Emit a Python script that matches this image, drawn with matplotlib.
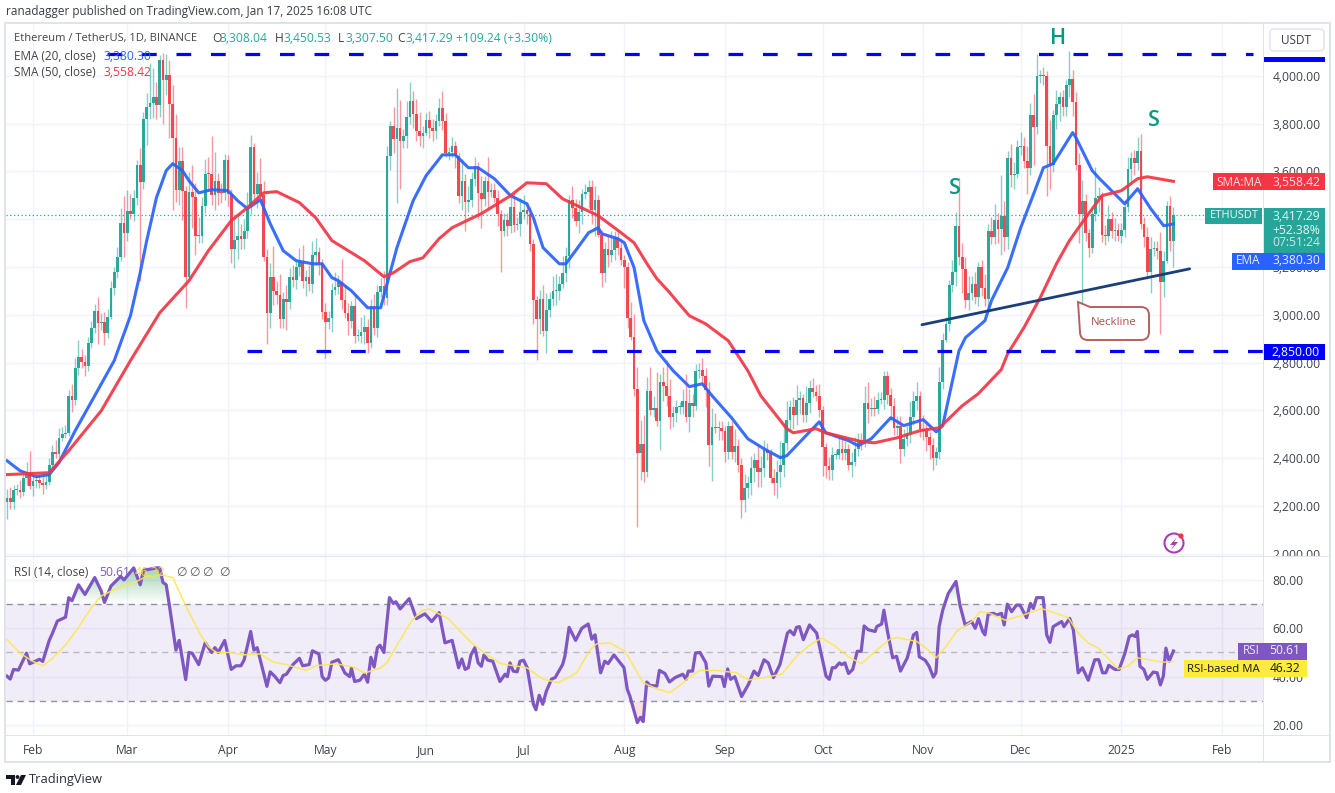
import numpy as np
import matplotlib
matplotlib.use('Agg')
import matplotlib.pyplot as plt
from matplotlib.patches import Rectangle, PathPatch, Circle, Polygon, FancyBboxPatch
from matplotlib.path import Path
from matplotlib.transforms import Affine2D

plt.rcParams['font.family'] = ['Open Sans', 'DejaVu Sans']

# ---------- data: daily closes, upper wick, lower wick (day 0 = 1 Feb 2024) ----------
first_day = -8
first_open = 2215
close_jan = [2235,2218,2267,2268,2257,2318,2343,2282]
up_jan = [35,45,20,25,40,25,40,85]
lo_jan = [70,30,30,20,25,15,30,10]
close_feb = [2304,2309,2296,2289,2301,2372,2425,2419,2486,2501,2507,2659,2642,2777,2825,2803,2785,2881,2945,3014,2967,2971,2922,2992,3112,3178,3243,3385,3340]
up_feb = [30,25,25,40,30,30,30,50,40,30,30,25,50,40,70,30,30,25,30,30,60,35,40,30,30,20,40,60,110]
lo_feb = [40,30,20,40,20,15,15,20,20,15,15,15,50,20,30,25,40,20,20,20,90,30,50,20,10,30,25,20,100]
close_mar = [3433,3420,3490,3628,3555,3818,3868,3885,3912,3878,4066,3980,4005,3880,3738,3520,3642,3517,3158,3515,3493,3330,3330,3454,3590,3587,3500,3561,3510,3509,3647]
up_mar = [90,70,30,20,70,30,60,170,120,60,20,30,85,60,80,100,60,60,20,80,110,60,80,40,60,70,160,120,30,40,25]
lo_mar = [30,20,30,30,415,30,110,50,60,60,50,180,60,140,300,50,60,120,130,10,130,80,30,30,30,70,40,60,50,40,30]
close_apr = [3505,3275,3312,3330,3317,3350,3452,3700,3505,3545,3500,3243,3006,3156,3100,3084,2984,3066,3055,3157,3147,3200,3220,3140,3156,3130,3250,3262,3215,3011]
up_apr = [20,20,110,90,50,50,60,50,20,50,110,60,30,60,130,40,85,30,60,40,50,30,60,70,30,50,60,60,20,20]
lo_apr = [50,60,80,80,40,40,30,30,40,60,30,20,130,60,60,40,40,40,120,30,30,40,40,30,60,30,40,40,50,30]
close_may = [2970,2987,3103,3117,3136,3063,3007,2973,3037,2910,2911,2929,2950,2881,3037,2945,3093,3122,3071,3664,3789,3737,3780,3727,3749,3826,3894,3841,3768,3747,3760]
up_may = [40,30,30,60,30,95,60,40,20,50,30,60,50,30,30,50,30,30,60,40,20,80,170,120,30,70,80,40,60,80,30]
lo_may = [150,30,60,20,30,40,20,60,30,30,20,30,50,40,20,30,40,20,30,30,60,60,270,200,30,50,30,60,40,40,50]
close_jun = [3813,3780,3767,3810,3865,3812,3678,3680,3705,3665,3497,3560,3470,3480,3567,3621,3510,3483,3560,3513,3520,3490,3420,3350,3395,3370,3450,3375,3380,3430]
up_jun = [30,40,40,30,40,70,30,20,40,20,10,90,30,60,30,40,20,70,20,100,30,30,30,20,30,30,50,60,30,60]
lo_jun = [10,40,40,30,20,40,20,30,20,50,30,60,120,40,30,30,110,120,30,70,20,20,50,170,20,40,30,30,20,50]
close_jul = [3440,3420,3295,3060,2980,3065,2930,3020,3066,3100,3100,3130,3175,3245,3480,3445,3390,3430,3505,3515,3535,3440,3480,3335,3175,3275,3250,3270,3320,3280,3230]
up_jul = [60,30,30,20,20,40,60,70,30,60,70,30,70,40,20,60,40,50,20,30,30,30,60,20,20,30,60,80,30,40,40]
lo_jul = [30,40,30,100,170,60,20,90,30,30,60,40,20,40,50,40,20,50,50,20,70,60,110,10,60,40,50,30,40,30,20]
close_aug = [3200,2985,2905,2690,2420,2460,2340,2680,2600,2610,2555,2720,2700,2660,2570,2590,2615,2615,2640,2570,2630,2620,2765,2770,2745,2685,2455,2530,2525,2525,2515]
up_aug = [20,20,70,100,90,100,120,60,100,50,150,30,60,110,70,30,30,20,50,110,60,40,30,30,50,30,35,80,60,30,30]
lo_aug = [90,40,10,30,310,110,40,20,20,30,20,120,60,40,50,40,40,30,30,20,60,50,20,30,30,70,90,150,20,50,40]
close_sep = [2425,2535,2425,2450,2370,2225,2275,2295,2360,2390,2340,2360,2435,2420,2315,2295,2340,2370,2465,2560,2615,2580,2645,2650,2580,2630,2695,2675,2660,2600]
up_sep = [20,20,20,70,30,30,60,30,50,30,70,50,40,30,20,40,50,100,80,80,30,40,60,30,20,70,30,40,30,50]
lo_sep = [40,30,30,40,30,75,50,40,50,60,60,60,40,30,20,50,60,60,50,30,50,60,40,60,30,30,40,20,20,30]
close_oct = [2445,2365,2350,2415,2415,2440,2420,2440,2370,2385,2440,2475,2465,2630,2605,2610,2605,2645,2645,2745,2665,2620,2525,2535,2440,2480,2505,2570,2640,2660,2520]
up_oct = [20,20,40,30,20,50,50,30,20,40,50,30,30,70,90,40,50,30,30,20,20,30,30,40,40,40,30,70,40,60,20]
lo_oct = [120,50,40,40,20,20,30,30,20,50,20,30,30,20,60,30,30,20,20,40,40,60,30,30,60,30,30,40,30,40,30]
close_nov = [2515,2490,2455,2400,2425,2720,2895,2960,3125,3180,3370,3240,3190,3060,3090,3130,3075,3200,3110,3065,3350,3325,3395,3360,3415,3325,3655,3585,3590,3700]
up_nov = [60,30,20,30,20,60,30,30,20,50,60,200,60,50,70,30,50,20,30,60,30,60,70,30,170,60,30,60,50,30]
lo_nov = [40,60,60,50,30,30,30,10,30,30,60,30,100,30,40,30,30,40,30,30,40,30,30,60,110,60,50,50,60,20]
close_dec = [3705,3645,3615,3835,3785,4000,4005,4000,3705,3625,3835,3880,3910,3870,3960,3985,3890,3625,3420,3475,3340,3280,3420,3490,3495,3335,3330,3400,3350,3355,3330]
up_dec = [60,40,60,50,90,90,20,30,20,110,20,60,20,30,20,120,40,40,50,90,30,20,30,130,40,20,40,60,30,50,30]
lo_dec = [30,30,110,30,160,30,30,40,210,100,30,60,70,40,40,50,60,20,120,370,30,40,20,30,60,30,40,20,30,40,20]
close_jan25 = [3355,3450,3610,3655,3635,3685,3380,3325,3180,3275,3280,3265,3135,3225,3455,3308,3417]
up_jan25 = [30,30,50,25,35,60,70,30,40,50,30,30,80,40,20,40,35]
lo_jan25 = [30,30,20,60,50,30,20,40,30,90,30,30,215,60,10,40,110]

closes = close_jan+close_feb+close_mar+close_apr+close_may+close_jun+close_jul+close_aug+close_sep+close_oct+close_nov+close_dec+close_jan25
ups = up_jan+up_feb+up_mar+up_apr+up_may+up_jun+up_jul+up_aug+up_sep+up_oct+up_nov+up_dec+up_jan25
lows = lo_jan+lo_feb+lo_mar+lo_apr+lo_may+lo_jun+lo_jul+lo_aug+lo_sep+lo_oct+lo_nov+lo_dec+lo_jan25

ema_days = [-8,-4,1,5,8,13,19,25,30,33,35,38,41,43,46,48,51,55,60,63,66,70,73,77,81,86,89,92,94,98,103,107,109,112,117,121,126,130,134,137,142,147,152,154,157,162,164,167,171,174,175,180,182,185,188,192,197,202,206,209,215,220,225,230,232,237,242,244,251,254,258,264,268,274,278,280,285,287,293,295,300,304,308,311,314,320,321,326,328,336,340,344,348,351]
ema_vals = [2389,2347,2322,2331,2381,2515,2661,2808,2996,3176,3310,3490,3603,3632,3603,3561,3510,3523,3519,3477,3444,3481,3381,3268,3226,3213,3213,3155,3142,3100,3029,3029,3130,3280,3477,3582,3669,3669,3615,3615,3569,3498,3464,3406,3280,3213,3213,3268,3343,3364,3339,3318,3301,3197,2975,2849,2766,2699,2711,2661,2569,2481,2439,2402,2410,2481,2552,2506,2473,2452,2481,2569,2536,2561,2510,2536,2849,2904,2975,3059,3197,3364,3506,3615,3632,3762,3741,3603,3573,3464,3527,3444,3372,3380]
sma_days = [-8,5,11,21,30,39,48,54,61,66,71,75,82,87,92,97,102,108,111,116,120,125,129,138,147,152,158,163,174,181,185,189,192,196,198,202,207,214,220,224,232,234,241,244,255,259,266,273,279,286,291,298,300,305,310,315,319,324,329,335,340,343,351]
sma_vals = [2331,2339,2431,2598,2808,3008,3142,3268,3393,3448,3510,3515,3469,3406,3310,3268,3226,3159,3176,3222,3238,3318,3364,3423,3498,3552,3548,3485,3414,3343,3301,3213,3151,3092,3059,2996,2962,2891,2766,2661,2523,2506,2523,2506,2469,2464,2485,2515,2527,2619,2670,2770,2837,2946,3071,3213,3310,3406,3498,3519,3569,3577,3558]

rsi_days = [-8,-7,-6,-4.5,-2,-1,2,3,5,6,7.5,10,11,12,14,16,19,21,22,24,27,28,31,33,34,38,39,40,41,42,44,45,47,48,49,51,53,55,56,57,59,61,62.5,64,65,67,68,69,72,73,74.5,76,77,78,80,82,83,85,86,88,89,90,91,92,94,96,97.5,98,99,100.6,102,103,104,105,106,106.8,108,109.7,110.9,111.7,113,115.8,118,120.6,122.7,125,126.8,129,131,132,133,134,134.8,136,137,138,138.8,140,141.5,143.7,145.3,146,146.8,147.8,149,149.9,151,152.1,154,154.8,155.8,156.9,158,159.6,160.7,163,163.7,165,167,168.9,170.9,172,173,174.7,176,177,178.8,181.9,182.9,183.7,186,187,187.8,188.9,189.9,192,192.8,194.5,195.9,197.6,200,201,201.7,203,203.9,205.3,207.1,208,209.2,212,212.8,213.8,214.7,216,218.1,220.2,221.9,223.2,225,226.3,227.9,229.9,232.2,233,234.2,235,235.9,237.1,239,241.2,244.1,245.1,246,246.9,248.2,248.9,249.9,251,252.3,253.7,254.9,255.8,257.1,259.2,259.7,261.2,261.9,263,264.6,265.8,267,269.1,271,272,272.8,274.6,275.8,277.1,277.9,278.9,280,281.7,284.1,285.3,286.9,288.9,290,291,292.3,293,294,295.6,296.6,298.1,298.9,299.9,301.2,302.7,303.8,305.8,307,307.9,308.9,310.9,312,313,314,316.6,317.3,319.1,320.2,321.7,323,324.8,326.8,328,329.2,330.2,331.1,333,334.3,336.1,337.4,338.4,339.2,339.9,340.7,341.9,343,344.8,346,347,347.9,348.7,349.7,351]
rsi_vals = [40.2,39,43,42.7,49.7,45.3,47.2,46.3,55,58,63,64.6,72.7,71.4,78,74,81,75.4,70.7,77.5,81.5,80,85,78,84,85,85,79,78,69.3,51,55,38.8,50,49.7,45,54,50,52,50,55,43,44.5,44.5,47,58.7,51,52,36,42,40,37.5,40.5,41,45,47.6,44.5,45,50.7,49.4,40,38.5,39.5,46,47,41.5,40,43.5,38,38.5,41,37.7,48,44,52,53,50,72.7,70.3,71,68,72.3,64,66,62.8,66.5,54,55,43.7,47.3,43,43.7,49,52,45.7,44.3,49,46.8,46.4,38,41,40,45.7,42.3,42,46.4,46.8,43.7,28.6,26.3,32.3,28.6,34,39,39.6,45,48.4,60.4,55,60,61.8,55.5,57.3,41.6,46.4,45.4,49,43.7,34.8,32,21,23.2,21.4,37.8,36.4,36.1,42.6,41.3,37.8,39.6,41,38.9,42.3,42.3,49.8,50,45.7,36.1,40.2,40,35.9,43.2,38.9,40,31.8,36.8,42.3,40.5,47,45.7,39.6,45,58,59,57.3,60.4,60.7,55.3,61.4,58,40.2,38.9,43.7,43.7,45.7,45,45.7,41.3,43,50.5,50.5,61,59.4,58.7,60.7,61.8,67.5,58.7,47.8,48.4,42.3,47.8,57.3,58.3,48.2,46.8,44.3,39.8,41.6,60.7,67.5,74.4,79.4,69.6,61.4,62.8,60,64,58.7,57.3,65.9,66.2,65.5,66.2,61.4,70,66.9,69.6,69.6,64.4,70.3,68.2,72.7,72.7,57.3,54.2,60.7,62.8,60.7,64.1,59.4,41.6,43.7,38.5,47,47,41.6,41.6,44.7,43,43,49.8,56.6,57.3,56.6,58.7,44.3,43,38.9,41.9,41.6,36.6,40.2,51.8,46.4,50.61]
rma_days = [-8,-4,0,3,6,10,14,18,21,25,31,35,40,43,47,51.4,54,56.5,60.6,64.7,70,74,78,84,87.3,93.5,98.6,102,106.8,108.9,112,116.5,119.6,122,127.8,134.5,139.6,144.2,152,157,161.7,167.3,171.4,173.5,177.6,182.2,187.8,192,196,199.6,201.7,205.3,210.4,216.6,220.2,224.8,230.4,235,239.2,242.7,246.3,251,255,259.7,263.8,265.8,272,275.6,278,280.7,284.3,288.9,291.5,294.5,299.2,303.8,306.9,310.4,318.6,321.7,324.8,327.9,334,337,339.9,347.9,351]
rma_vals = [55.4,49.7,46.3,44.5,47.6,53,60.5,68.6,73.4,76,78.8,81.5,82,81,69.3,57.8,52.4,50,50,49,49.4,46,45,42.6,44.6,45.3,44,41.5,43.5,45.7,53,63,67.3,68,64,54.6,49,45.3,43.7,38.9,37.5,41.6,51,53.6,54,50.5,37.5,35,33.4,36.8,39.6,42.6,42.6,41.6,38.6,39.6,41,48.4,53.2,56,53.2,48.2,45.3,51,55.5,56.2,54.6,51,47.8,52,58.7,62.8,66.9,66.2,63.4,65,66.5,68.2,64.5,58,53.9,51.8,43.2,44.3,47.8,46,46.32]

month_ticks = [0,29,60,90,121,151,182,213,243,274,304,335,366]
month_labels = ['Feb','Mar','Apr','May','Jun','Jul','Aug','Sep','Oct','Nov','Dec','2025','Feb']
price_ticks = [2000,2200,2400,2600,2800,3000,3200,3400,3600,3800,4000]
rsi_ticks = [20,40,60,80]
resistance = 4092
support = 2850
last_price = 3417.29
neck_days = [273.6,356]
neck_vals = [2958,3192]

W, H = 1335, 793
TEAL, RED = '#26a69a', '#f4434d'
GRID = '#f0f3fa'
EDGE = '#e0e3eb'
TXT = '#3f434d'

fig = plt.figure(figsize=(W/100, H/100), dpi=100, facecolor='white')
px = Affine2D().scale(1/W, -1/H).translate(0, 1) + fig.transFigure

L, R, T1, B1, T2, B2 = 6, 1263, 24, 555.5, 557, 735
ax = fig.add_axes([L/W, 1-B1/H, (R-L)/W, (B1-T1)/H])
ax2 = fig.add_axes([L/W, 1-B2/H, (R-L)/W, (B2-T2)/H])
xlim = ((L-33)/3.249, (R-33)/3.249)

def style(a, yt, fmt):
    a.set_xlim(*xlim)
    a.set_xticks(month_ticks)
    a.set_yticks(yt)
    # the 3,400 label lies wholly under the ETHUSDT tag in the reference
    a.set_yticklabels(['' if v == 3400 else fmt.format(v) for v in yt], color=TXT, fontsize=8.7)
    a.yaxis.tick_right()
    a.tick_params(length=0, pad=7)
    a.grid(True, color=GRID, lw=1.0)
    a.set_axisbelow(True)
    for s in a.spines.values():
        s.set_visible(False)

# --- candles ---
days = np.arange(first_day, first_day+len(closes))
c = np.array(closes, float)
o = np.r_[first_open, c[:-1]]
hi = np.maximum(o, c)+np.array(ups)
lo = np.minimum(o, c)-np.array(lows)
cols = np.where(c >= o, TEAL, RED)
ax.vlines(days, lo, hi, colors=cols, lw=1.0, alpha=0.55, zorder=2)
ax.bar(days, np.maximum(np.abs(c-o), 4), bottom=np.minimum(o, c), width=0.82, color=cols, alpha=0.97, lw=0, zorder=3)
ax.set_ylim(4000-(B1-75.7)*4.184, 4000+(75.7-T1)*4.184)
style(ax, price_ticks, '{:,.2f}')
ax.set_xticklabels([])

ax.plot(ema_days, ema_vals, color='#2962ff', lw=2.2, alpha=0.92, zorder=4, solid_joinstyle='round')
ax.plot(sma_days, sma_vals, color='#f23645', lw=2.2, alpha=0.92, zorder=4, solid_joinstyle='round')
ax.axhline(last_price, color=TEAL, lw=0.9, ls=(0, (1, 2)), zorder=1.5)
ax.plot([(107-33)/3.249, xlim[1]-3], [resistance]*2, color='#0000ff', lw=2.3, ls=(0, (4.6, 6.2)), dash_capstyle='butt', zorder=5)
ax.plot([(247-33)/3.249, xlim[1]], [support]*2, color='#0000ff', lw=2.3, ls=(0, (4.6, 6.2)), dash_capstyle='butt', zorder=5)
ax.plot(neck_days, neck_vals, color='#1c3f7c', lw=2.0, solid_capstyle='round', zorder=6)

# --- RSI ---
ax2.set_ylim(20-(B2-725)/2.42, 80+(580-T2)/2.42)
style(ax2, rsi_ticks, '{:.2f}')
ax2.set_xticklabels(month_labels, color=TXT, fontsize=8.7)
ax2.tick_params(axis='x', pad=6.5)
ax2.axhspan(30, 70, color='#7e57c2', alpha=0.11, lw=0, zorder=1)
for lev in (30, 50, 70):
    ax2.axhline(lev, color='#787b86', lw=1.0, ls=(0, (4.5, 3.5)), alpha=0.45 if lev == 50 else 0.8, zorder=2)
fine = np.arange(-8, 351.01, 0.1)
rfine = np.interp(fine, rsi_days, rsi_vals)
grad = np.zeros((100, 2, 4))
grad[..., :3] = matplotlib.colors.to_rgb('#2e9e58')
grad[..., 3] = np.linspace(0.55, 0, 100)[:, None]
im = ax2.imshow(grad, extent=(xlim[0], xlim[1], 70, 88), aspect='auto', zorder=1.5, origin='upper')
clip = Path(np.vstack([np.c_[fine, np.maximum(rfine, 70)], [[fine[-1], 70], [fine[0], 70]]]))
im.set_clip_path(PathPatch(clip, transform=ax2.transData))
ax2.fill_between(fine, np.minimum(rfine, 30), 30, color='#f7a8a8', alpha=0.35, lw=0, zorder=1.5)
ax2.plot(rsi_days, rsi_vals, color='#7e57c2', lw=2.3, zorder=4, solid_joinstyle='round')
ax2.plot(rma_days, rma_vals, color='#ffe74d', lw=1.1, alpha=0.9, zorder=5)
ax2.set_xlim(*xlim)
ax2.set_ylim(20-(B2-725)/2.42, 80+(580-T2)/2.42)

# --- helpers on pixel coordinates ---
def rect(x0, y0, x1, y1, fc, ec='none', lw=0, z=1.5):
    fig.add_artist(Rectangle((x0, y0), x1-x0, y1-y0, transform=px, fc=fc, ec=ec, lw=lw, zorder=z))

def text(x, y, s, color=TXT, size=8.7, ha='left', va='center', **kw):
    fig.text(x/W, 1-y/H, s, color=color, fontsize=size, ha=ha, va=va, zorder=6, **kw)

# frame and separators
rect(1264, 556, 1328, 566, 'white')          # clips the 2,000 label
rect(R, 23, R+1.3, 762, EDGE)
rect(5, 555.5, 1330, 557, EDGE)
rect(5, 735, 1330, 736.3, EDGE)
rect(5, 23, 1330, 762, 'none', ec=EDGE, lw=1.4)

# header
text(6, 11, 'ranadagger published on TradingView.com, Jan 17, 2025 16:08 UTC', '#3a3d45', 8.5)
text(14, 39, 'Ethereum / TetherUS, 1D, BINANCE', '#444', 8.05)
for x, k, v in [(212, 'O', '3,308.04'), (275, 'H', '3,450.53'), (338, 'L', '3,307.50'), (397, 'C', '3,417.29')]:
    text(x, 39, k, '#444', 8.7)
    text(x+8, 39, v, TEAL, 8.7)
text(456, 39, '+109.24 (+3.30%)', TEAL, 8.7)
text(14, 56, 'EMA (20, close)', '#444', 8.5)
text(104, 56, '3,380.30', '#2962ff', 8.7)
text(14, 73, 'SMA (50, close)', '#444', 8.5)
text(104, 73, '3,558.42', '#f23645', 8.7)
text(14, 573, 'RSI (14, close)', '#444', 8.5)
text(99, 573, '50.61', '#7e57c2', 8.7)
text(135, 573, '46.32', '#fdd835', 8.7)
for x in (176, 189, 202, 219):
    text(x, 573, '\u2205', '#555', 8.7)

# pattern letters
for x, y, s in [(955, 188, 'S'), (1058, 38, 'H'), (1154, 121, 'S')]:
    text(x, y, s, '#089981', 15.5, ha='center', fontweight='semibold')

# neckline callout
v = [(1078,302),(1090,307),(1141,307),(1149,307),(1149,315),(1149,332),(1149,340),(1141,340),(1088,340),(1080,340),(1080,332),(1078,302)]
cd = [Path.MOVETO,Path.LINETO,Path.LINETO,Path.CURVE3,Path.CURVE3,Path.LINETO,Path.CURVE3,Path.CURVE3,Path.LINETO,Path.CURVE3,Path.CURVE3,Path.CLOSEPOLY]
fig.add_artist(PathPatch(Path(v, cd), transform=px, fc='white', ec='#b5615f', lw=1.4, zorder=2))
text(1114, 323, 'Neckline', '#a85250', 8.2, ha='center')

# axis tags
rect(1264, 57, 1325, 62, '#0000ff')
rect(1213, 173, 1325, 190, '#f23645')
text(1239, 182, 'SMA:MA', 'white', 8.5, ha='center', alpha=0.85)
text(1296, 182, '3,558.42', 'white', 8.7, ha='center', alpha=0.9)
rect(1205, 208, 1262, 224, TEAL)
rect(1264, 208, 1325, 253, TEAL)
text(1234, 216, 'ETHUSDT', 'white', 8.0, ha='center', alpha=0.9)
text(1296, 216, '3,417.29', 'white', 8.7, ha='center', alpha=0.9)
text(1296, 230, '+52.38%', 'white', 8.7, ha='center', alpha=0.9)
text(1296, 243, '07:51:24', 'white', 8.7, ha='center', alpha=0.75)
rect(1232, 253, 1325, 270, '#2962ff')
text(1248, 261, 'EMA', 'white', 8.5, ha='center', alpha=0.9)
text(1296, 261, '3,380.30', 'white', 8.7, ha='center', alpha=0.9)
rect(1264, 344, 1325, 360, '#0000ff')
text(1296, 352, '2,850.00', 'white', 8.7, ha='center')
rect(1238, 643, 1307, 660, '#7e57c2')
text(1251, 651, 'RSI', 'white', 8.5, ha='center', alpha=0.85)
text(1285, 651, '50.61', 'white', 8.7, ha='center', alpha=0.9)
rect(1184, 660, 1307, 677, '#ffeb3b')
text(1223, 669, 'RSI-based MA', '#131722', 8.2, ha='center')
text(1285, 669, '46.32', '#131722', 8.7, ha='center')

# USDT button
fig.add_artist(FancyBboxPatch((1270, 29), 54, 22, boxstyle='round,pad=0,rounding_size=4', transform=px, fc='white', ec=EDGE, lw=1.0, zorder=2))
text(1296, 41, 'USDT', '#3a3d45', 8.5, ha='center')

# lightning icon
fig.add_artist(Circle((1174, 543), 9.5, transform=px, fc='white', ec='#a83cb8', lw=1.5, zorder=2))
fig.add_artist(Polygon([(1177,537),(1170,545),(1174,545),(1171,550),(1178,542),(1174,542)], transform=px, fc='#a83cb8', ec='none', zorder=3))
fig.add_artist(Circle((1181, 536), 2.6, transform=px, fc='#f23645', ec='none', zorder=4))

# TradingView logo and name
fig.add_artist(Polygon([(6,775),(15,775),(15,785),(10.5,785),(10.5,779),(6,779)], transform=px, fc='#131722', ec='none', zorder=3))
fig.add_artist(Circle((17.5,777), 1.9, transform=px, fc='#131722', ec='none', zorder=3))
fig.add_artist(Polygon([(21,775),(26,775),(21,785),(16,785)], transform=px, fc='#131722', ec='none', zorder=3))
text(29, 780, 'TradingView', '#2a2e39', 9.3)

fig.savefig('out.png', dpi=100, facecolor='white')
